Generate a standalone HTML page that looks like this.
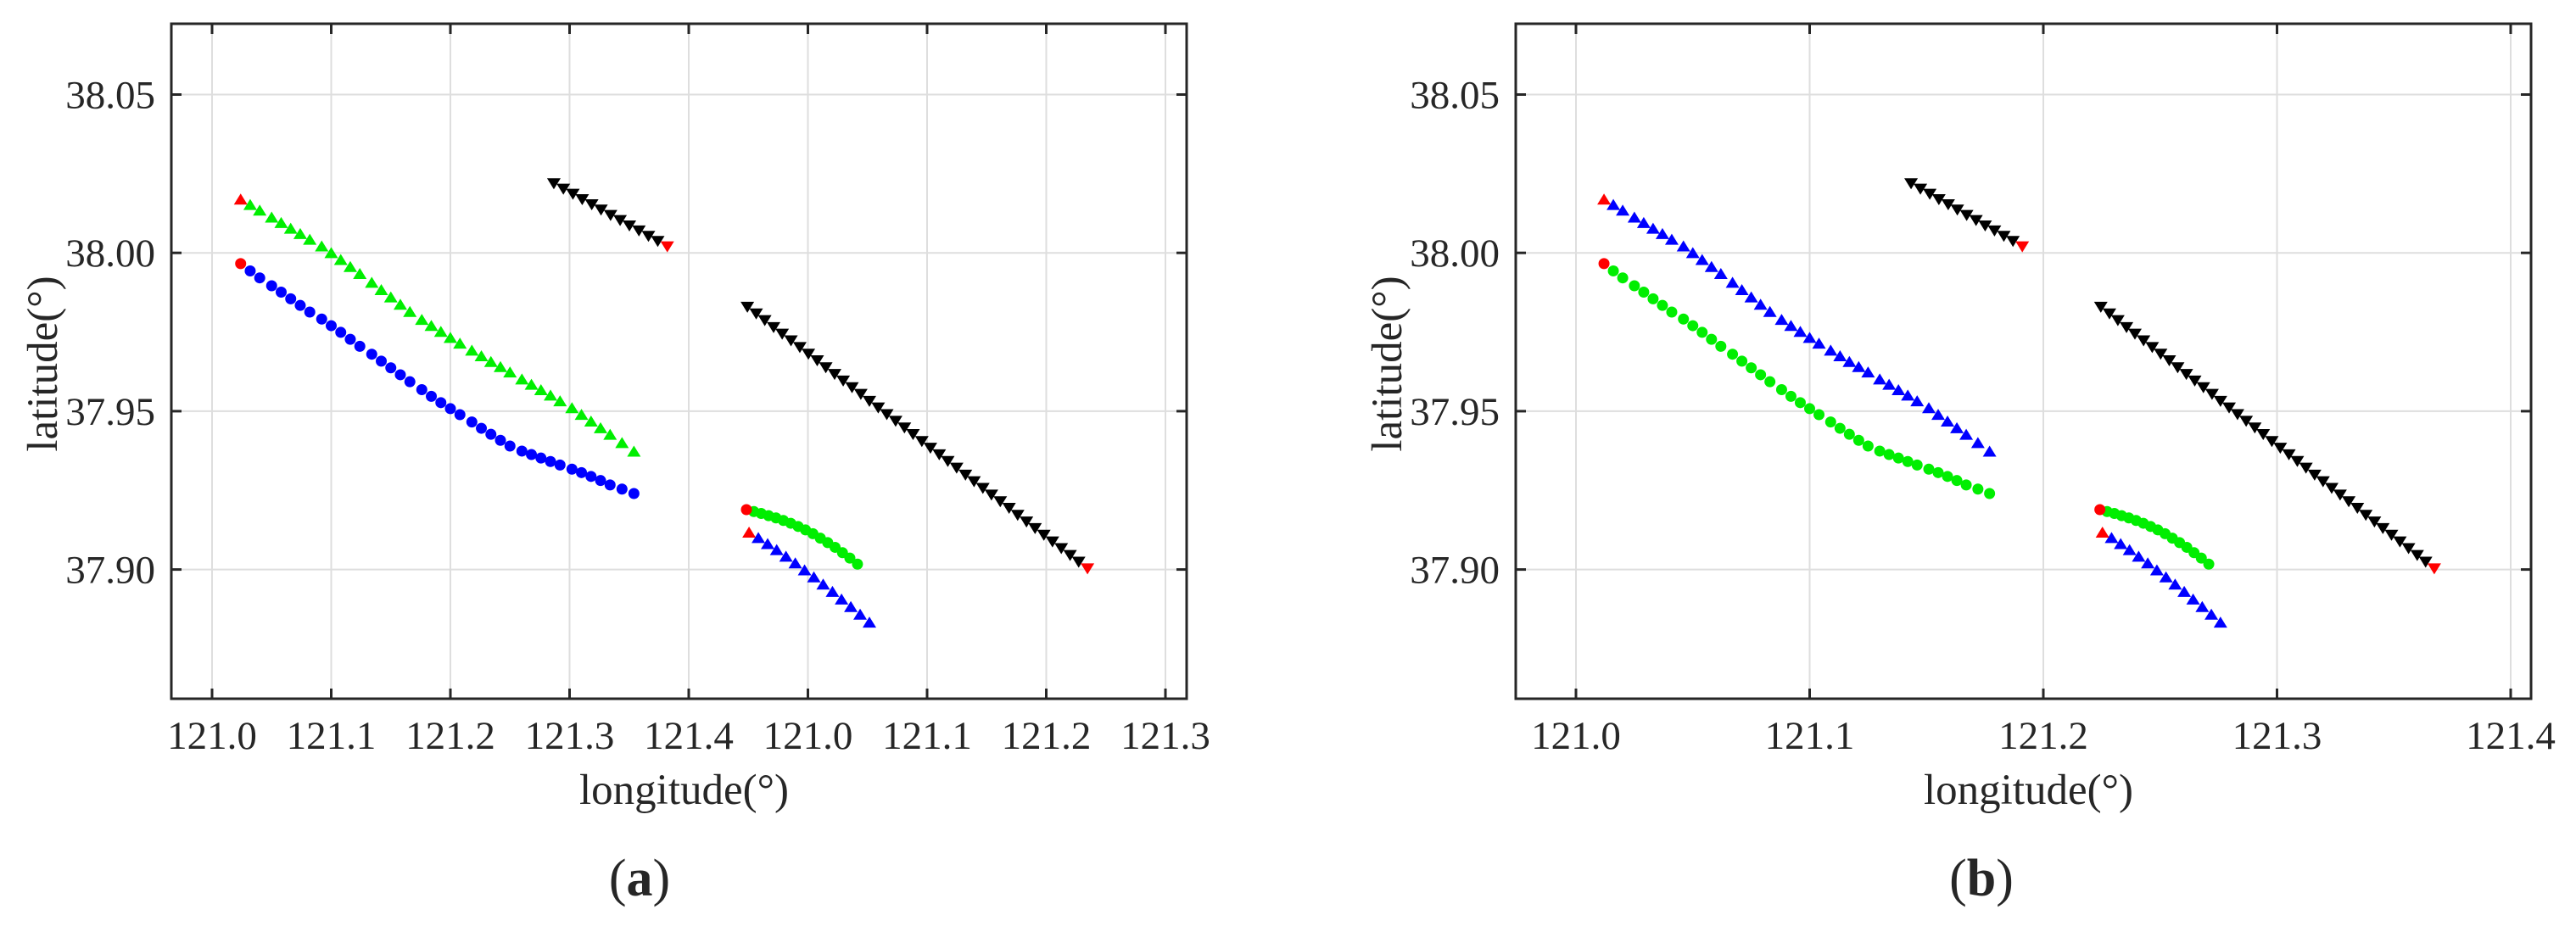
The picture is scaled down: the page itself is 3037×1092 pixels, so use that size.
<!DOCTYPE html>
<html><head><meta charset="utf-8"><style>
html,body{margin:0;padding:0;background:#fff;}
svg{display:block;}
text{font-family:"Liberation Serif",serif;fill:#262626;}
</style></head><body>
<svg id="fig" width="3037" height="1092" viewBox="0 0 3037 1092" xmlns="http://www.w3.org/2000/svg">
<rect width="3037" height="1092" fill="#fff"/>
<g id="pa"></g>
<g id="pb"></g>
</svg>
<script>
// ---- data (true lon/lat) ----
const longLon = [121.012,121.016,121.020,121.025,121.029,121.033,121.037,121.041,121.046,121.050,121.054,121.058,121.062,121.067,121.071,121.075,121.079,121.083,121.088,121.092,121.096,121.100,121.104,121.109,121.113,121.117,121.121,121.125,121.130,121.134,121.138,121.142,121.146,121.151,121.155,121.159,121.163,121.167,121.172,121.177];
const triLongLat = [38.0170,38.0153,38.0135,38.0113,38.0096,38.0078,38.0061,38.0043,38.0022,38.0001,37.9979,37.9957,37.9935,37.9907,37.9884,37.9861,37.9838,37.9815,37.9790,37.9771,37.9752,37.9733,37.9715,37.9693,37.9675,37.9657,37.9641,37.9624,37.9602,37.9585,37.9568,37.9551,37.9533,37.9511,37.9490,37.9469,37.9448,37.9427,37.9401,37.9374];
const cirLongLat = [37.9966,37.9943,37.9921,37.9896,37.9876,37.9855,37.9834,37.9813,37.9791,37.9770,37.9749,37.9727,37.9705,37.9680,37.9658,37.9637,37.9615,37.9593,37.9568,37.9547,37.9527,37.9508,37.9489,37.9466,37.9446,37.9427,37.9408,37.9390,37.9374,37.9363,37.9352,37.9341,37.9330,37.9317,37.9306,37.9294,37.9281,37.9267,37.9254,37.9240];
const black1Lon = [121.1434,121.1474,121.1514,121.1553,121.1593,121.1632,121.1672,121.1712,121.1751,121.1791,121.1831,121.1870,121.1910];
const black1Lat = [38.0218,38.0201,38.0185,38.0168,38.0152,38.0135,38.0118,38.0102,38.0085,38.0069,38.0052,38.0036,38.0019];
const black2Lon = [121.2246,121.2283,121.2319,121.2356,121.2392,121.2429,121.2466,121.2502,121.2539,121.2575,121.2612,121.2648,121.2685,121.2722,121.2758,121.2795,121.2831,121.2868,121.2905,121.2941,121.2978,121.3014,121.3051,121.3087,121.3124,121.3161,121.3197,121.3234,121.3270,121.3307,121.3344,121.3380,121.3417,121.3453,121.3490,121.3526,121.3563,121.3600,121.3636,121.3673];
const black2Lat = [37.9828,37.9807,37.9786,37.9764,37.9743,37.9722,37.9701,37.9680,37.9659,37.9637,37.9616,37.9595,37.9574,37.9553,37.9531,37.9510,37.9489,37.9468,37.9447,37.9426,37.9404,37.9383,37.9362,37.9341,37.9320,37.9298,37.9277,37.9256,37.9235,37.9214,37.9193,37.9171,37.9150,37.9129,37.9108,37.9087,37.9066,37.9044,37.9023,37.9002];
const shortCirLon = [121.2242,121.2273,121.2304,121.2335,121.2366,121.2397,121.2428,121.2459,121.2490,121.2521,121.2552,121.2583,121.2614,121.2645,121.2676,121.2708];
const shortCirLat = [37.9189,37.9183,37.9177,37.9170,37.9163,37.9155,37.9146,37.9136,37.9125,37.9113,37.9099,37.9085,37.9070,37.9053,37.9036,37.9017];
const shortTriLon = [121.2253,121.2292,121.2331,121.2369,121.2408,121.2447,121.2486,121.2525,121.2564,121.2603,121.2641,121.2680,121.2719,121.2758];
const shortTriLat = [37.9118,37.9101,37.9082,37.9063,37.9042,37.9021,37.8999,37.8977,37.8954,37.8931,37.8907,37.8883,37.8859,37.8834];
const yTicks = [37.90,37.95,38.00,38.05];
const yTickLabels = ["37.90","37.95","38.00","38.05"];
const aTickVals = [121.0,121.05,121.1,121.15,121.2,121.25,121.3,121.35,121.4];
const aTickLabels = ["121.0","121.1","121.2","121.3","121.4","121.0","121.1","121.2","121.3"];
const bTickVals = [121.0,121.1,121.2,121.3,121.4];
const bTickLabels = ["121.0","121.1","121.2","121.3","121.4"];

const NS="http://www.w3.org/2000/svg";
function mk(parent,tag,attrs){const e=document.createElementNS(NS,tag);for(const k in attrs)e.setAttribute(k,attrs[k]);parent.appendChild(e);return e;}

function panel(g,cfg){
  const {x0,x1,y0,y1,lonAt0,pxPerDeg,tickVals,tickLabels,caption,capX,longTriColor,longCirColor}=cfg;
  const X=v=>x0+(v-lonAt0)*pxPerDeg;
  const Y=v=>111.5+(38.05-v)*3734;
  tickVals.forEach(v=>{const l=mk(g,'line',{x1:X(v),x2:X(v),y1:y0,y2:y1,stroke:'#dedede','stroke-width':2});
    
    });
  yTicks.forEach(v=>{const l=mk(g,'line',{x1:x0,x2:x1,y1:Y(v),y2:Y(v),stroke:'#dedede','stroke-width':2});
    
    });
  function tri(x,y,col,down){const s=8,h=13;const p=down?`${x-s},${y-h/2} ${x+s},${y-h/2} ${x},${y+h/2}`:`${x-s},${y+h/2} ${x+s},${y+h/2} ${x},${y-h/2}`;return mk(g,'polygon',{points:p,fill:col});}
  function series(lons,lats,shape,col,name,redIdx){
    const sg=mk(g,'g',{});
    
    
    lons.forEach((lo,i)=>{
      const c=(i===redIdx)?'#ff0000':col;
      const x=X(lo),y=Y(lats[i]);
      let m;
      if(shape==='c') m=mk(sg,'circle',{cx:x,cy:y,r:6.5,fill:c});
      else m=tri(x,y,c,shape==='d'); sg.appendChild(m);
      
      
    });
    const r=sg.children[redIdx]; sg.appendChild(r);
  }
  series(longLon,triLongLat,'t',longTriColor,'long-triangle-track',0);
  series(longLon,cirLongLat,'c',longCirColor,'long-circle-track',0);
  series(black1Lon,black1Lat,'d','#000000','black-track-1',black1Lon.length-1);
  series(black2Lon,black2Lat,'d','#000000','black-track-2',black2Lon.length-1);
  series(shortCirLon,shortCirLat,'c','#00ee00','short-circle-track',0);
  series(shortTriLon,shortTriLat,'t','#0000ff','short-triangle-track',0);
  const box=mk(g,'rect',{x:x0,y:y0,width:x1-x0,height:y1-y0,fill:'none',stroke:'#262626','stroke-width':3});
  
  
  tickVals.forEach((v,i)=>{
    mk(g,'line',{x1:X(v),x2:X(v),y1:y1,y2:y1-12,stroke:'#262626','stroke-width':3});
    mk(g,'line',{x1:X(v),x2:X(v),y1:y0,y2:y0+12,stroke:'#262626','stroke-width':3});
    const t=mk(g,'text',{x:X(v),y:883,'text-anchor':'middle','font-size':47});
    t.textContent=tickLabels[i];
    
    
  });
  yTicks.forEach((v,i)=>{
    mk(g,'line',{x1:x0,x2:x0+12,y1:Y(v),y2:Y(v),stroke:'#262626','stroke-width':3});
    mk(g,'line',{x1:x1,x2:x1-12,y1:Y(v),y2:Y(v),stroke:'#262626','stroke-width':3});
    const t=mk(g,'text',{x:x0-19,y:Y(v)+16,'text-anchor':'end','font-size':47});
    t.textContent=yTickLabels[i];
    
    
  });
  const cx=(x0+x1)/2;
  const xl=mk(g,'text',{x:cx+6,y:948,'text-anchor':'middle','font-size':51});
  xl.textContent='longitude(°)';
  
  
  const yl=mk(g,'text',{x:0,y:0,'text-anchor':'middle','font-size':51,transform:`translate(${x0-135},429) rotate(-90)`});
  yl.textContent='latitude(°)';
  
  
  const cp=mk(g,'text',{x:capX,y:1056,'text-anchor':'middle','font-size':62});
  cp.innerHTML='(<tspan font-weight="bold">'+caption+'</tspan>)';
  
  
}
panel(document.getElementById('pa'),{x0:202,x1:1399,y0:28,y1:824,lonAt0:121.0-48/2810,pxPerDeg:2810,tickVals:aTickVals,tickLabels:aTickLabels,caption:'a',capX:754,longTriColor:'#00ee00',longCirColor:'#0000ff'});
panel(document.getElementById('pb'),{x0:1787,x1:2984,y0:28,y1:824,lonAt0:121.0-71/2755,pxPerDeg:2755,tickVals:bTickVals,tickLabels:bTickLabels,caption:'b',capX:2336,longTriColor:'#0000ff',longCirColor:'#00ee00'});
</script>
</body></html>
